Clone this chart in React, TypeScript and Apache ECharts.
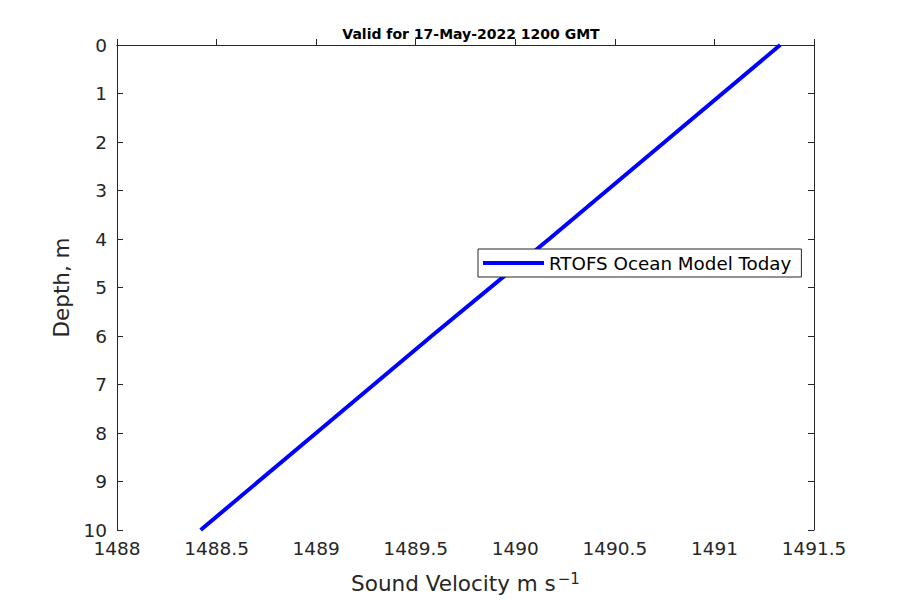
import React, { useEffect, useRef } from "react";
import * as echarts from "echarts";

const depths = [0, 2, 4, 6, 8, 10];
const velocities = [1491.33, 1490.75, 1490.17, 1489.58, 1489.0, 1488.42];
const titleText = "Valid for 17-May-2022 1200 GMT";
const seriesName = "RTOFS Ocean Model Today";

const FONT = "DejaVu Sans";

export default function App() {
  const ref = useRef<HTMLDivElement>(null);
  useEffect(() => {
    const chart = echarts.init(ref.current!, null, { renderer: "svg" });
    const data = depths.map((d, i) => [velocities[i], d]);
    const axisLine = { show: true, lineStyle: { color: "#262626", width: 1 } };
    const tickStyle = { color: "#262626" };
    chart.setOption({
      animation: false,
      backgroundColor: "#fff",
      title: {
        text: titleText,
        left: 466,
        top: 22,
        textAlign: "center",
        textStyle: { fontFamily: FONT, fontSize: 14, fontWeight: "bold", color: "#000" },
      },
      grid: {
        left: 117,
        right: 86,
        top: 45,
        bottom: 70,
        containLabel: false,
        outerBoundsMode: "none",
      },
      legend: {
        left: 478,
        top: 249,
        orient: "vertical",
        backgroundColor: "#fff",
        borderColor: "#262626",
        borderWidth: 1,
        borderRadius: 0,
        padding: [5, 10, 5, 5],
        itemWidth: 61,
        itemHeight: 4,
        itemGap: 0,
        icon: "rect",
        textStyle: { fontFamily: FONT, fontSize: 18.3, color: "#000" },
        data: [seriesName],
      },
      xAxis: [
        {
          type: "value",
          min: 1488,
          max: 1491.5,
          interval: 0.5,
          axisLine,
          axisTick: { show: true, inside: true, length: 6, lineStyle: tickStyle },
          splitLine: { show: false },
          axisLabel: {
            fontFamily: FONT,
            fontSize: 18.5,
            color: "#262626",
            margin: 9,
            formatter: (v: number) => String(v),
          },
          name: "Sound Velocity m s{sup|−1}",
          nameLocation: "middle",
          nameGap: 41,
          nameTextStyle: {
            fontFamily: FONT,
            fontSize: 21.5,
            color: "#262626",
            rich: {
              sup: { fontFamily: FONT, fontSize: 15, color: "#262626", verticalAlign: "top", padding: [0, 0, 10, 2] },
            },
          },
        },
        {
          type: "value",
          position: "top",
          min: 1488,
          max: 1491.5,
          interval: 0.5,
          axisLine,
          axisTick: { show: true, inside: false, length: 6, lineStyle: tickStyle },
          splitLine: { show: false },
          axisLabel: { show: false },
        },
      ],
      yAxis: [
        {
          type: "value",
          inverse: true,
          min: 0,
          max: 10,
          interval: 1,
          axisLine,
          axisTick: { show: true, inside: true, length: 6, lineStyle: tickStyle },
          splitLine: { show: false },
          axisLabel: {
            fontFamily: FONT,
            fontSize: 18.5,
            color: "#262626",
            margin: 10,
            formatter: (v: number) => String(v),
          },
          name: "Depth, m",
          nameLocation: "middle",
          nameGap: 43,
          nameTextStyle: { fontFamily: FONT, fontSize: 21.5, color: "#262626" },
        },
        {
          type: "value",
          position: "right",
          inverse: true,
          min: 0,
          max: 10,
          interval: 1,
          axisLine,
          axisTick: { show: true, inside: true, length: 6, lineStyle: tickStyle },
          splitLine: { show: false },
          axisLabel: { show: false },
        },
      ],
      series: [
        {
          name: seriesName,
          type: "line",
          data,
          showSymbol: false,
          symbol: "none",
          lineStyle: { color: "#0000ff", width: 4 },
          itemStyle: { color: "#0000ff" },
        },
      ],
    });
    return () => chart.dispose();
  }, []);
  return (
    <div
      ref={ref}
      style={{ position: "fixed", left: 0, top: 0, width: 900, height: 600 }}
    />
  );
}
